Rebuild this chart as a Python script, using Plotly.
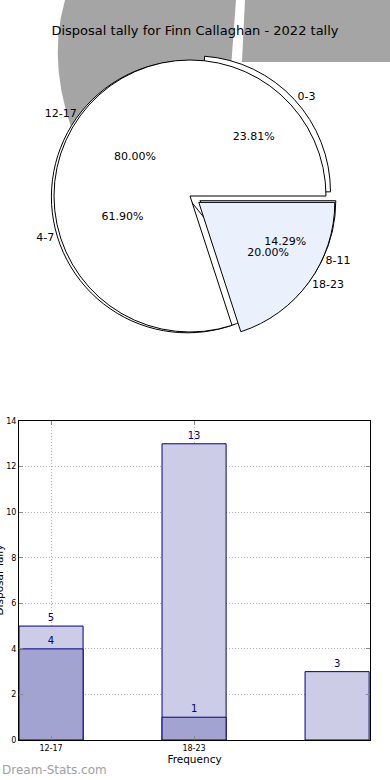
import plotly.graph_objects as go

# ---------------- data ----------------
title_text = "Disposal tally for Finn Callaghan - 2022 tally"
pie_a_labels = ["0-3", "4-7", "8-11"]
pie_a_values = [5, 13, 3]
pie_b_labels = ["12-17", "18-23"]
pie_b_values = [4, 1]

bar_tick_labels = ["12-17", "18-23"]
bar_light_values = [5, 13, 3]
bar_dark_values = [4, 1]
y_tick_values = [0, 2, 4, 6, 8, 10, 12, 14]
x_axis_title = "Frequency"
y_axis_title = "Disposal Tally"
watermark = "Dream-Stats.com"

# ---------------- styles ----------------
W, H = 390, 780
FONT = "DejaVu Sans"
LIGHTBLUE = "#eaf0fc"
NAVY = "#000080"
CLEAR = "rgba(0,0,0,0)"

pie_a_pull = [0.045, 0.02, 0.08]
pie_a_colors = ["white", "white", LIGHTBLUE]
pie_b_pull = [0.0, 0.08]
pie_b_colors = ["white", LIGHTBLUE]
max_pull = 0.08
cx, cy, r = 190, 196, 136
half = r * (1 + max_pull)
pie_domain = dict(x=[(cx - half) / W, (cx + half) / W],
                  y=[1 - (cy + half) / H, 1 - (cy - half) / H])

bar_domain_y = [1 - 740 / H, 1 - 421 / H]


def px(x, y):
    return f"{x / W:.4f},{1 - y / H:.4f}"


def rev(seq):
    return list(seq)[::-1]


fig = go.Figure()

# slices run counter-clockwise from 3 o'clock: draw reversed lists clockwise from 3 o'clock
common = dict(domain=pie_domain, direction="clockwise", rotation=90,
              sort=False, hoverinfo="skip", showlegend=False)

pies = [(pie_a_labels, pie_a_values, pie_a_pull, pie_a_colors),
        (pie_b_labels, pie_b_values, pie_b_pull, pie_b_colors)]

# visible pies
for labels, values, pull, colors in pies:
    fig.add_trace(go.Pie(labels=rev(labels), values=rev(values), pull=rev(pull),
                         marker=dict(colors=rev(colors),
                                     line=dict(color="black", width=1)),
                         textinfo="none", **common))

# text layers (transparent copies on top)
for labels, values, pull, colors in pies:
    fig.add_trace(go.Pie(labels=rev(labels), values=rev(values), pull=rev(pull),
                         marker=dict(colors=[CLEAR] * len(values),
                                     line=dict(color=CLEAR, width=0)),
                         texttemplate="%{percent:.2%}", textposition="inside",
                         insidetextorientation="horizontal",
                         textfont=dict(family=FONT, size=11, color="black"),
                         **common))
    fig.add_trace(go.Pie(labels=rev(labels), values=rev(values), pull=rev(pull),
                         marker=dict(colors=[CLEAR] * len(values),
                                     line=dict(color=CLEAR, width=0)),
                         texttemplate="%{label}", textposition="outside",
                         outsidetextfont=dict(family=FONT, size=11, color="black"),
                         **common))

# bars
fig.add_trace(go.Bar(x=list(range(len(bar_light_values))), y=bar_light_values,
                     width=0.448, marker=dict(color="#cccce6", line=dict(color=NAVY, width=1)),
                     text=[str(v) for v in bar_light_values], textposition="outside",
                     textfont=dict(family=FONT, size=10, color=NAVY),
                     cliponaxis=False, hoverinfo="skip", showlegend=False))
fig.add_trace(go.Bar(x=list(range(len(bar_dark_values))), y=bar_dark_values,
                     width=0.448, marker=dict(color="#a3a3d1", line=dict(color=NAVY, width=1)),
                     text=[str(v) for v in bar_dark_values], textposition="outside",
                     textfont=dict(family=FONT, size=10, color=NAVY),
                     cliponaxis=False, hoverinfo="skip", showlegend=False))

shapes = [
    dict(type="path", xref="paper", yref="paper", layer="below",
         path=f"M {px(65,0)} Q {px(45,70)} {px(80,150)} L {px(190,160)} L {px(231,68)} L {px(236,0)} Z",
         fillcolor="#a5a5a5", line=dict(width=0)),
    dict(type="path", xref="paper", yref="paper", layer="below",
         path=f"M {px(245,0)} L {px(390,0)} L {px(390,62)} L {px(242,62)} Z",
         fillcolor="#a5a5a5", line=dict(width=0)),
]

fig.update_layout(
    width=W, height=H, margin=dict(l=0, r=0, t=0, b=0),
    paper_bgcolor="white", plot_bgcolor="white",
    font=dict(family=FONT, color="black"),
    barmode="overlay", showlegend=False, shapes=shapes,
    title=dict(text=title_text, x=195 / W, xanchor="center", y=1 - 30 / H,
               yanchor="middle", font=dict(family=FONT, size=13, color="black")),
    xaxis=dict(domain=[19 / W, 370 / W], range=[-0.224, 2.23],
               tickvals=list(range(len(bar_tick_labels))), ticktext=bar_tick_labels,
               tickfont=dict(size=8), ticks="inside", ticklen=4, tickcolor="#888",
               showgrid=True, gridcolor="#b0b0b0", griddash="1px,2px", gridwidth=1,
               showline=True, linecolor="black", linewidth=1, mirror="ticks",
               zeroline=False, automargin=False,
               title=dict(text=x_axis_title, font=dict(size=10.5), standoff=4)),
    yaxis=dict(domain=bar_domain_y, range=[0, 14],
               tickvals=y_tick_values, tickfont=dict(size=8),
               ticks="inside", ticklen=4, tickcolor="#888",
               showgrid=True, gridcolor="#b0b0b0", griddash="1px,2px", gridwidth=1,
               showline=True, linecolor="black", linewidth=1, mirror="ticks",
               zeroline=False, automargin=False),
    annotations=[
        dict(text=watermark, xref="paper", yref="paper", x=0, y=1 - 770 / H,
             xanchor="left", yanchor="middle", showarrow=False,
             font=dict(family=FONT, size=12, color="#a0a0a0")),
        dict(text=y_axis_title, xref="paper", yref="paper", x=-2 / W,
             y=(bar_domain_y[0] + bar_domain_y[1]) / 2, textangle=-90,
             xanchor="center", yanchor="middle", showarrow=False,
             font=dict(family=FONT, size=10.5, color="black")),
    ],
)

fig.write_html("out.html", config={"displayModeBar": False},
               post_script="document.body.style.margin='0';")
